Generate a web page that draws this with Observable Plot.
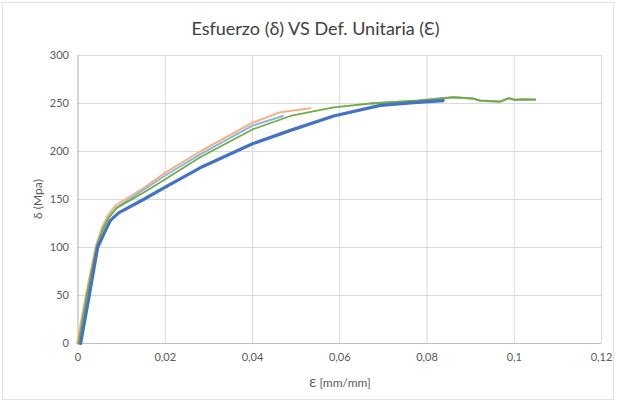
<!DOCTYPE html>
<html><head><meta charset="utf-8">
<script src="https://cdn.jsdelivr.net/npm/d3@7"></script>
<script src="https://cdn.jsdelivr.net/npm/@observablehq/plot@0.6"></script>
<style>
body{margin:0;background:#fff;}
#wrap{position:relative;width:619px;height:406px;font-family:Lato,"Open Sans",sans-serif;color:#595959;overflow:hidden;}
#frame{position:absolute;left:2px;top:2px;width:612px;height:398px;border:1px solid #e3e3e3;box-sizing:border-box;}
#title{position:absolute;top:17px;left:6px;width:619px;text-align:center;font-size:18px;color:#404040;}
#ylab{position:absolute;left:37px;top:199px;transform:translate(-50%,-50%) rotate(-90deg);font-size:12px;white-space:nowrap;}
#xlab{position:absolute;left:340px;top:382px;transform:translate(-50%,-50%);font-size:12px;white-space:nowrap;}
#chart{position:absolute;left:0;top:0;}
</style></head>
<body>
<div id="wrap">
<div id="frame"></div>
<div id="chart"></div>
<div id="title">Esfuerzo (δ) VS Def. Unitaria (Ɛ)</div>
<div id="ylab">δ (Mpa)</div>
<div id="xlab">Ɛ [mm/mm]</div>
</div>
<script>
const xTicks = [0, 0.02, 0.04, 0.06, 0.08, 0.1, 0.12];
const yTicks = [0, 50, 100, 150, 200, 250, 300];

const blue = [[0.0006,0],[0.0025,48],[0.0045,100],[0.0059,114],[0.0074,128],[0.0093,136],[0.015,150],[0.02,163],[0.028,183],[0.04,208],[0.0487,222],[0.0586,237],[0.0693,248],[0.077,251],[0.0837,253]];
const lightBlue = [[0.0002,0],[0.0022,50],[0.0042,102],[0.0056,118],[0.007,131],[0.009,142],[0.015,160],[0.02,175],[0.028,197],[0.04,227],[0.047,237]];
const orange = [[-0.0002,0],[0.0017,48],[0.004,100],[0.0054,120],[0.0068,133],[0.0086,144],[0.015,162],[0.02,178],[0.028,200],[0.04,230],[0.0464,241],[0.0533,245]];
const gray = [[0.067,250],[0.078,253],[0.0861,256.5],[0.0907,255],[0.0922,253],[0.0968,252],[0.0987,255.5],[0.1002,253.8],[0.102,254.2],[0.1048,254]];
const green = [[0.0001,0],[0.002,50],[0.0043,102],[0.0057,119],[0.007,131],[0.0088,141],[0.015,157],[0.02,171],[0.028,194],[0.04,223],[0.0487,237],[0.0586,246],[0.067,250],[0.078,253],[0.0861,256.5],[0.0907,255],[0.0922,253],[0.0968,252],[0.0987,255.5],[0.1002,253.8],[0.102,254.2],[0.1048,254]];

const series = [
  {name:"gris", pts:gray, color:"#9aa58c", w:2.2},
  {name:"azul claro", pts:lightBlue, color:"#8db4e2", w:2},
  {name:"naranja", pts:orange, color:"#f4b183", w:2},
  {name:"verde", pts:green, color:"#70ad47", w:1.8},
  {name:"azul", pts:blue, color:"#4472c4", w:3.2}
];

const fmt = d => d === 0 ? "0" : String(d).replace(".", ",");

const marks = [
  Plot.gridX(xTicks, {stroke:"#d9d9d9", strokeOpacity:1}),
  Plot.gridY(yTicks, {stroke:"#d9d9d9", strokeOpacity:1}),
  Plot.ruleX([0], {stroke:"#bfbfbf"}),
  Plot.ruleY([0], {stroke:"#bfbfbf"}),
  Plot.axisX({ticks:xTicks, tickSize:0, tickPadding:10, tickFormat:fmt, label:null, fontSize:11, color:"#595959"}),
  Plot.axisY({ticks:yTicks, tickSize:0, tickPadding:9, label:null, fontSize:11, color:"#595959"})
];
for (const s of series) {
  marks.push(Plot.line(s.pts, {x:d=>d[0], y:d=>d[1], stroke:s.color, strokeWidth:s.w, curve:"linear"}));
}

const chart = Plot.plot({
  width:619, height:406,
  marginLeft:77.5, marginRight:18, marginTop:55, marginBottom:63,
  x:{domain:[0,0.12]},
  y:{domain:[0,300]},
  style:{fontFamily:"Lato, 'Open Sans', sans-serif", background:"transparent", color:"#595959", overflow:"visible"},
  marks
});
document.getElementById("chart").appendChild(chart);
</script>
</body></html>
